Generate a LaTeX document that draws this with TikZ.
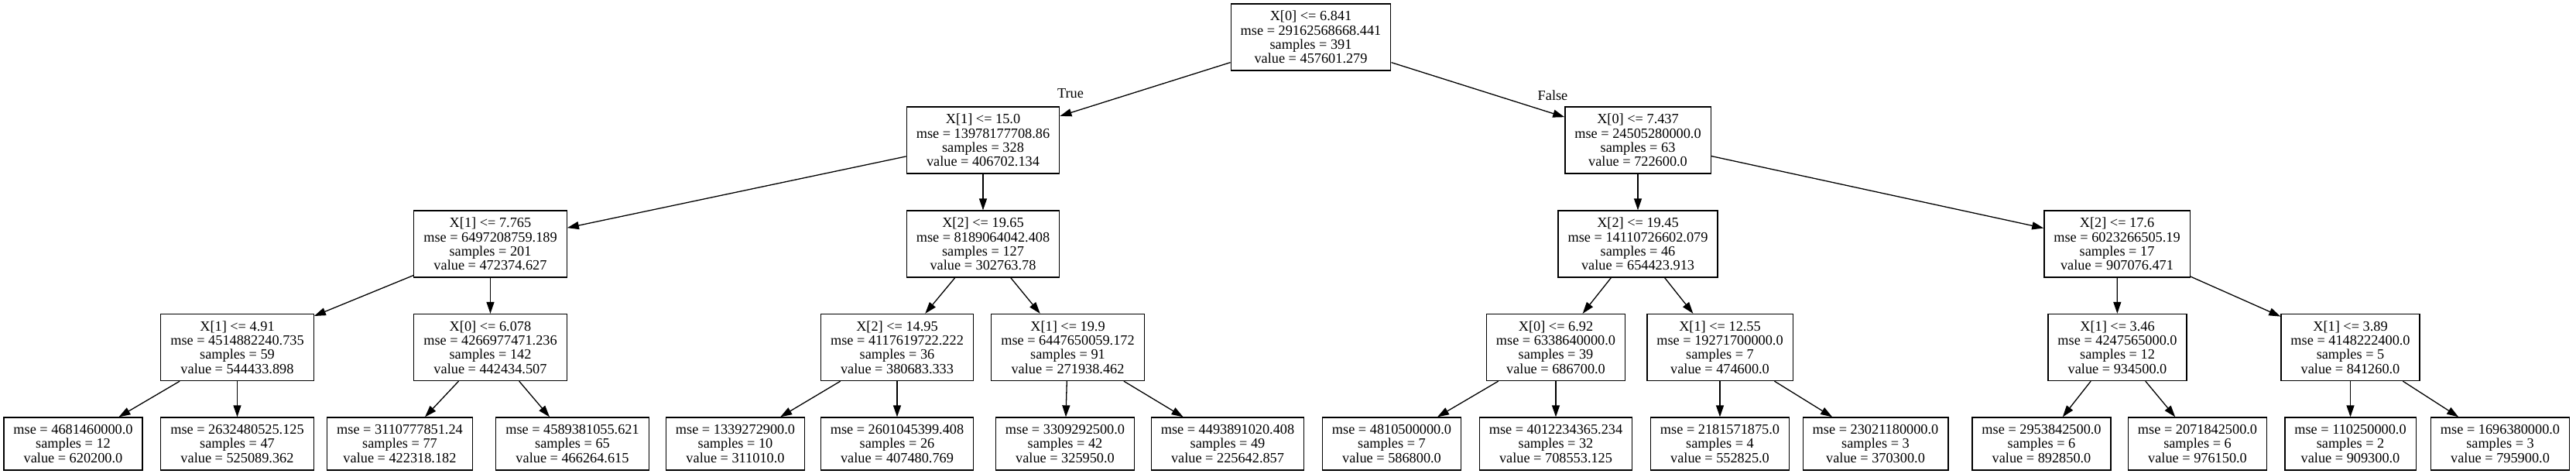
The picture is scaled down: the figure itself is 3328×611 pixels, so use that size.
\documentclass[tikz,border=0pt]{standalone}
\usepackage{fontspec}
\setmainfont{Liberation Serif}
\usetikzlibrary{arrows.meta}
\begin{document}
\begin{tikzpicture}[x=0.5pt,y=-0.5pt,
  every node/.style={font=\fontsize{9.15pt}{9.17pt}\selectfont},
  split/.style={draw=black, line width=0.65pt, rectangle, align=center, inner xsep=6.25pt, inner ysep=0pt, minimum height=43pt},
  leaf/.style={split, minimum height=34pt},
  edge/.style={draw=black, line width=0.65pt, -{Triangle[length=7.5pt,width=5pt]}},
  lbl/.style={inner sep=0pt, anchor=base}]
\fill[white] (0,0) rectangle (3328,611);
\useasboundingbox (0,0) rectangle (3328,611);
% level 0
\node[split] (n0) at (1693.5,48) {X[0] <= 6.841\\mse = 29162568668.441\\samples = 391\\value = 457601.279};
% level 1
\node[split] (n1) at (1270,181) {X[1] <= 15.0\\mse = 13978177708.86\\samples = 328\\value = 406702.134};
\node[split] (n2) at (2116,181) {X[0] <= 7.437\\mse = 24505280000.0\\samples = 63\\value = 722600.0};
% level 2
\node[split] (n3) at (633.5,315) {X[1] <= 7.765\\mse = 6497208759.189\\samples = 201\\value = 472374.627};
\node[split] (n4) at (1270,315) {X[2] <= 19.65\\mse = 8189064042.408\\samples = 127\\value = 302763.78};
\node[split] (n5) at (2116,315) {X[2] <= 19.45\\mse = 14110726602.079\\samples = 46\\value = 654423.913};
\node[split] (n6) at (2735,315) {X[2] <= 17.6\\mse = 6023266505.19\\samples = 17\\value = 907076.471};
% level 3
\node[split] (n7) at (306.5,448.5) {X[1] <= 4.91\\mse = 4514882240.735\\samples = 59\\value = 544433.898};
\node[split] (n8) at (633.5,448.5) {X[0] <= 6.078\\mse = 4266977471.236\\samples = 142\\value = 442434.507};
\node[split] (n9) at (1159,448.5) {X[2] <= 14.95\\mse = 4117619722.222\\samples = 36\\value = 380683.333};
\node[split] (n10) at (1379.5,448.5) {X[1] <= 19.9\\mse = 6447650059.172\\samples = 91\\value = 271938.462};
\node[split] (n11) at (2010,448.5) {X[0] <= 6.92\\mse = 6338640000.0\\samples = 39\\value = 686700.0};
\node[split] (n12) at (2222,448.5) {X[1] <= 12.55\\mse = 19271700000.0\\samples = 7\\value = 474600.0};
\node[split] (n13) at (2735.5,448.5) {X[1] <= 3.46\\mse = 4247565000.0\\samples = 12\\value = 934500.0};
\node[split] (n14) at (3036.5,448.5) {X[1] <= 3.89\\mse = 4148222400.0\\samples = 5\\value = 841260.0};
% leaves
\node[leaf] (l1) at (94.5,573) {mse = 4681460000.0\\samples = 12\\value = 620200.0};
\node[leaf] (l2) at (306.5,573) {mse = 2632480525.125\\samples = 47\\value = 525089.362};
\node[leaf] (l3) at (516.5,573) {mse = 3110777851.24\\samples = 77\\value = 422318.182};
\node[leaf] (l4) at (739.5,573) {mse = 4589381055.621\\samples = 65\\value = 466264.615};
\node[leaf] (l5) at (950,573) {mse = 1339272900.0\\samples = 10\\value = 311010.0};
\node[leaf] (l6) at (1159,573) {mse = 2601045399.408\\samples = 26\\value = 407480.769};
\node[leaf] (l7) at (1376,573) {mse = 3309292500.0\\samples = 42\\value = 325950.0};
\node[leaf] (l8) at (1586,573) {mse = 4493891020.408\\samples = 49\\value = 225642.857};
\node[leaf] (l9) at (1798,573) {mse = 4810500000.0\\samples = 7\\value = 586800.0};
\node[leaf] (l10) at (2010,573) {mse = 4012234365.234\\samples = 32\\value = 708553.125};
\node[leaf] (l11) at (2222,573) {mse = 2181571875.0\\samples = 4\\value = 552825.0};
\node[leaf] (l12) at (2423,573) {mse = 23021180000.0\\samples = 3\\value = 370300.0};
\node[leaf] (l13) at (2637.5,573) {mse = 2953842500.0\\samples = 6\\value = 892850.0};
\node[leaf] (l14) at (2839,573) {mse = 2071842500.0\\samples = 6\\value = 976150.0};
\node[leaf] (l15) at (3036.5,573) {mse = 110250000.0\\samples = 2\\value = 909300.0};
\node[leaf] (l16) at (3230,573) {mse = 1696380000.0\\samples = 3\\value = 795900.0};
% edges
\draw[edge] (n0) -- (n1);
\draw[edge] (n0) -- (n2);
\draw[edge] (n1) -- (n3);
\draw[edge] (n1) -- (n4);
\draw[edge] (n2) -- (n5);
\draw[edge] (n2) -- (n6);
\draw[edge] (n3) -- (n7);
\draw[edge] (n3) -- (n8);
\draw[edge] (n4) -- (n9);
\draw[edge] (n4) -- (n10);
\draw[edge] (n5) -- (n11);
\draw[edge] (n5) -- (n12);
\draw[edge] (n6) -- (n13);
\draw[edge] (n6) -- (n14);
\draw[edge] (n7) -- (l1);
\draw[edge] (n7) -- (l2);
\draw[edge] (n8) -- (l3);
\draw[edge] (n8) -- (l4);
\draw[edge] (n9) -- (l5);
\draw[edge] (n9) -- (l6);
\draw[edge] (n10) -- (l7);
\draw[edge] (n10) -- (l8);
\draw[edge] (n11) -- (l9);
\draw[edge] (n11) -- (l10);
\draw[edge] (n12) -- (l11);
\draw[edge] (n12) -- (l12);
\draw[edge] (n13) -- (l13);
\draw[edge] (n13) -- (l14);
\draw[edge] (n14) -- (l15);
\draw[edge] (n14) -- (l16);
% edge labels
\node[lbl] (tlabel) at (1383,126) {True};
\node[lbl] (flabel) at (2006,129) {False};
\end{tikzpicture}
\end{document}
